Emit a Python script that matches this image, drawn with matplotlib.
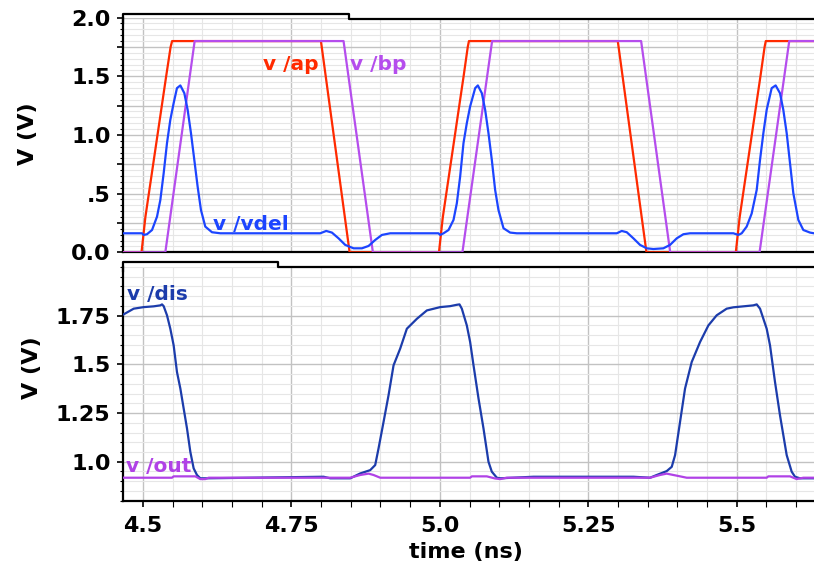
import matplotlib
matplotlib.use("Agg")
import matplotlib.pyplot as plt
from matplotlib.ticker import FixedLocator, MultipleLocator
from matplotlib.lines import Line2D

# ==============================
# Waveforms (time in ns, voltage in V)
# ==============================
ap_t = [4.4663, 4.4975, 4.5040, 4.5390, 4.5465, 4.5490, 4.7997, 4.8480,
        4.9985, 5.0050, 5.0400, 5.0470, 5.0490, 5.2997, 5.3480,
        5.4985, 5.5050, 5.5400, 5.5470, 5.5490, 5.6302]
ap_v = [0, 0, 0.30, 1.50, 1.75, 1.8, 1.8, 0,
        0, 0.30, 1.50, 1.75, 1.8, 1.8, 0,
        0, 0.30, 1.50, 1.75, 1.8, 1.8]

bp_t = [4.4663, 4.5376, 4.5870, 4.8378, 4.8872, 5.0380, 5.0880, 5.3390,
        5.3880, 5.5385, 5.5885, 5.6302]
bp_v = [0, 0, 1.8, 1.8, 0, 0, 1.8, 1.8, 0, 0, 1.8, 1.8]

vdel_t = [4.4663, 4.4983, 4.5011, 4.5067, 4.5152, 4.5236, 4.5292, 4.5348, 4.5404,
          4.5460, 4.5516, 4.5572, 4.5629, 4.5696, 4.5752, 4.5808, 4.5864, 4.5920,
          4.5976, 4.6049, 4.6162, 4.6302, 4.7985, 4.8086, 4.8182, 4.8294, 4.8406,
          4.8547, 4.8687, 4.8799, 4.8911, 4.9024, 4.9164,
          4.9977, 5.0005, 5.0062, 5.0146, 5.0230, 5.0286, 5.0342, 5.0398, 5.0454,
          5.0510, 5.0595, 5.0640, 5.0707, 5.0763, 5.0819, 5.0875, 5.0931, 5.0987,
          5.1072, 5.1184, 5.1296, 5.2980, 5.3064, 5.3148, 5.3260, 5.3372, 5.3485,
          5.3597, 5.3765, 5.3877, 5.3990, 5.4102, 5.4214,
          5.4944, 5.5028, 5.5084, 5.5168, 5.5252, 5.5337, 5.5393, 5.5449, 5.5505,
          5.5589, 5.5656, 5.5729, 5.5785, 5.5842, 5.5898, 5.5954, 5.6038, 5.6122,
          5.6235, 5.6302]
vdel_v = [0.162, 0.162, 0.148, 0.154, 0.19, 0.304, 0.446, 0.674, 0.930,
          1.129, 1.271, 1.399, 1.422, 1.356, 1.214, 1.015, 0.788, 0.560,
          0.361, 0.219, 0.171, 0.162, 0.162, 0.182, 0.168, 0.119, 0.063,
          0.034, 0.034, 0.054, 0.105, 0.148, 0.162,
          0.162, 0.148, 0.162, 0.19, 0.276, 0.418, 0.646, 0.930, 1.100,
          1.243, 1.399, 1.422, 1.356, 1.214, 1.015, 0.788, 0.532, 0.361,
          0.205, 0.168, 0.162, 0.162, 0.182, 0.171, 0.119, 0.063, 0.034,
          0.028, 0.034, 0.063, 0.119, 0.154, 0.162,
          0.162, 0.148, 0.162, 0.219, 0.330, 0.532, 0.788, 1.015, 1.214,
          1.399, 1.422, 1.356, 1.214, 1.015, 0.759, 0.503, 0.276, 0.190,
          0.168, 0.162]

dis_t = [4.4663, 4.4843, 4.5011, 4.5180, 4.5292, 4.5320, 4.5348, 4.5404, 4.5460,
         4.5516, 4.5572, 4.5629, 4.5685, 4.5741, 4.5797, 4.5853, 4.5909, 4.5965,
         4.6077, 4.8042, 4.8154, 4.8490, 4.8659, 4.8827, 4.8911, 4.8967, 4.9052,
         4.9136, 4.9220, 4.9332, 4.9444, 4.9613, 4.9781, 5.0005, 5.0174, 5.0286,
         5.0331, 5.0370, 5.0454, 5.0510, 5.0567, 5.0651, 5.0735, 5.0819, 5.0875,
         5.0960, 5.1016, 5.1577, 5.3260, 5.3541, 5.3653, 5.3821, 5.3906, 5.3962,
         5.4046, 5.4130, 5.4242, 5.4383, 5.4523, 5.4663, 5.4831, 5.4944, 5.5112,
         5.5280, 5.5337, 5.5393, 5.5505, 5.5561, 5.5645, 5.5729, 5.5842, 5.5926,
         5.5982, 5.6066, 5.6302]
dis_v = [1.755, 1.786, 1.794, 1.798, 1.803, 1.808, 1.799, 1.752, 1.683,
         1.598, 1.461, 1.376, 1.273, 1.171, 1.051, 0.966, 0.932, 0.915,
         0.915, 0.923, 0.915, 0.915, 0.940, 0.957, 0.983, 1.068, 1.205,
         1.342, 1.495, 1.581, 1.683, 1.734, 1.777, 1.794, 1.799, 1.806,
         1.808, 1.786, 1.700, 1.615, 1.495, 1.325, 1.171, 1.0, 0.949,
         0.918, 0.915, 0.923, 0.923, 0.918, 0.932, 0.952, 0.974, 1.034,
         1.205, 1.376, 1.512, 1.615, 1.700, 1.752, 1.786, 1.793, 1.798,
         1.803, 1.808, 1.786, 1.683, 1.598, 1.410, 1.239, 1.034, 0.949,
         0.923, 0.915, 0.915]

out_t = [4.4663, 4.5488, 4.5516, 4.5881, 4.5965, 4.6049, 4.6105,
         4.8490, 4.8659, 4.8799, 4.8883, 4.8996,
         5.0510, 5.0539, 5.0791, 5.0931, 5.1016, 5.1128,
         5.3541, 5.3709, 5.3821, 5.3934, 5.4158,
         5.5505, 5.5533, 5.5898, 5.6010, 5.6122, 5.6302]
out_v = [0.918, 0.918, 0.925, 0.925, 0.911, 0.911, 0.918,
         0.918, 0.932, 0.939, 0.932, 0.918,
         0.918, 0.925, 0.925, 0.914, 0.911, 0.918,
         0.918, 0.932, 0.939, 0.932, 0.918,
         0.918, 0.925, 0.925, 0.911, 0.918, 0.918]

x_ticks = [4.5, 4.75, 5.0, 5.25, 5.5]
x_labels = ["4.5", "4.75", "5.0", "5.25", "5.5"]
top_ticks = [0.0, 0.25, 0.5, 0.75, 1.0, 1.25, 1.5, 1.75, 2.0]
top_labels = ["0.0", "", ".5", "", "1.0", "", "1.5", "", "2.0"]
bot_ticks = [1.0, 1.25, 1.5, 1.75]
bot_labels = ["1.0", "1.25", "1.5", "1.75"]

# ==============================
# Style
# ==============================
C_AP = "#ff2a00"
C_BP = "#b54ded"
C_VDEL = "#1c45ff"
C_DIS = "#1c3cab"
C_OUT = "#b042e6"
FONT = "DejaVu Sans"
W, H = 814, 570
T_MIN, T_MAX = 4.4663, 5.6302


def fx(px):
    return px / W


def fy(py):
    return 1 - py / H


def style_axes(ax, ylim, yticks, ylabels):
    ax.set_xlim(T_MIN, T_MAX)
    ax.set_ylim(*ylim)
    ax.xaxis.set_major_locator(FixedLocator(x_ticks))
    ax.xaxis.set_minor_locator(MultipleLocator(0.05))
    ax.yaxis.set_major_locator(FixedLocator(yticks))
    ax.yaxis.set_minor_locator(MultipleLocator(0.05))
    ax.set_yticklabels(ylabels, fontsize=16, fontweight="bold", family=FONT)
    ax.grid(which="major", color="#c2c2c2", lw=1.0)
    ax.grid(which="minor", color="#e6e6e6", lw=0.8)
    ax.set_axisbelow(True)
    for s in ("top", "right"):
        ax.spines[s].set_visible(False)
    for s in ("left", "bottom"):
        ax.spines[s].set_linewidth(1.6)
        ax.spines[s].set_color("black")
    ax.tick_params(axis="y", which="major", length=4, width=1.2, pad=5)
    ax.tick_params(axis="y", which="minor", length=2.5, width=0.8)


fig = plt.figure(figsize=(W / 100, H / 100), dpi=100)

# top panel
ax1 = fig.add_axes([fx(123), fy(252.3), fx(814) - fx(123), fy(17.6) - fy(252.3)])
style_axes(ax1, (0, 2.0), top_ticks, top_labels)
ax1.tick_params(axis="x", which="both", length=0, labelbottom=False)
ax1.plot(ap_t, ap_v, color=C_AP, lw=1.6, zorder=3)
ax1.plot(bp_t, bp_v, color=C_BP, lw=1.6, zorder=4)
ax1.plot(vdel_t, vdel_v, color=C_VDEL, lw=1.6, zorder=5)
ax1.text(4.7025, 1.554, "v /ap", color=C_AP, fontsize=14.5, fontweight="bold",
         family=FONT, va="baseline")
ax1.text(4.849, 1.554, "v /bp", color=C_BP, fontsize=14.5, fontweight="bold",
         family=FONT, va="baseline")
ax1.text(4.618, 0.19, "v /vdel", color=C_VDEL, fontsize=14.5, fontweight="bold",
         family=FONT, va="baseline")

# bottom panel
ax2 = fig.add_axes([fx(123), fy(500.7), fx(814) - fx(123), fy(267) - fy(500.7)])
style_axes(ax2, (0.8, 2.0), bot_ticks, bot_labels)
ax2.set_xticklabels(x_labels, fontsize=16, fontweight="bold", family=FONT)
ax2.tick_params(axis="x", which="major", length=4, width=1.2, pad=7)
ax2.tick_params(axis="x", which="minor", length=4, width=0.8)
ax2.plot(dis_t, dis_v, color=C_DIS, lw=1.6, zorder=3)
ax2.plot(out_t, out_v, color=C_OUT, lw=1.6, zorder=4)
ax2.text(4.4736, 1.828, "v /dis", color=C_DIS, fontsize=14.5, fontweight="bold",
         family=FONT, va="baseline")
ax2.text(4.4719, 0.947, "v /out", color=C_OUT, fontsize=14.5, fontweight="bold",
         family=FONT, va="baseline")

# tab-shaped frame tops
for (x0, xs, ytab, ytop) in [(123, 349, 14, 19), (123, 278, 262, 267)]:
    fig.add_artist(Line2D([fx(x0), fx(x0), fx(xs), fx(xs), fx(814)],
                          [fy(ytop + 4), fy(ytab), fy(ytab), fy(ytop), fy(ytop)],
                          transform=fig.transFigure, color="black", lw=1.6))

fig.text(fx(28), fy(134), "V (V)", rotation=90, ha="center", va="center",
         fontsize=16, fontweight="bold", family=FONT)
fig.text(fx(32), fy(368), "V (V)", rotation=90, ha="center", va="center",
         fontsize=16, fontweight="bold", family=FONT)
fig.text(fx(466), fy(552), "time (ns)", ha="center", va="center",
         fontsize=16, fontweight="bold", family=FONT)

fig.savefig("out.png", dpi=100)
